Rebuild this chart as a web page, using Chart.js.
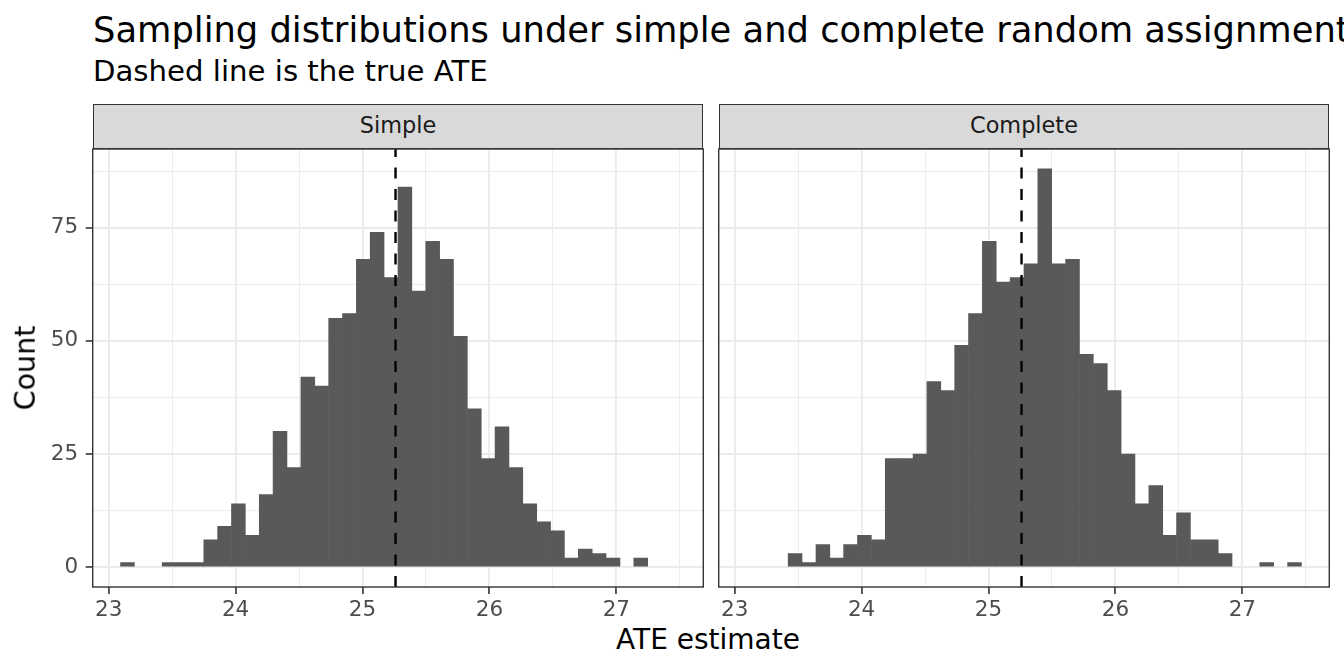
<!DOCTYPE html>
<html>
<head>
<meta charset="utf-8">
<script src="https://cdn.jsdelivr.net/npm/chart.js@4.4.1/dist/chart.umd.min.js"></script>
<style>
  body { margin: 0; width: 1344px; height: 672px; overflow: hidden; position: relative; background: #fff; font-family: "DejaVu Sans", sans-serif; }
  .txt { position: absolute; white-space: nowrap; line-height: 1; }
  #title { left: 93px; top: 11.8px; font-size: 35.3px; color: #000; }
  #subtitle { left: 93px; top: 57px; font-size: 29.2px; color: #000; }
  .strip { position: absolute; top: 104px; width: 610.6px; height: 44.6px; box-sizing: border-box; background: #d9d9d9; border: 1.4px solid #333; text-align: center; font-size: 22.4px; line-height: 41.8px; color: #1a1a1a; }
  .panel { position: absolute; top: 140px; height: 480px; }
  #xlab { left: 708px; top: 626.3px; font-size: 28px; transform: translateX(-50%); }
  #ylab { left: 25.5px; top: 368px; font-size: 28.5px; transform: translate(-50%, -50%) rotate(-90deg); }
</style>
</head>
<body>
<div class="txt" id="title">Sampling distributions under simple and complete random assignment</div>
<div class="txt" id="subtitle">Dashed line is the true ATE</div>
<div class="strip" style="left:92.7px">Simple</div>
<div class="strip" style="left:718.7px">Complete</div>
<div class="panel" style="left:0;width:712px"><canvas id="simple"></canvas></div>
<div class="panel" style="left:712px;width:625px"><canvas id="complete"></canvas></div>
<div class="txt" id="ylab">Count</div>
<div class="txt" id="xlab">ATE estimate</div>

<script>
// histogram bins (centres, width ~0.109), shared by both panels
const binCenters = [23.148, 23.257, 23.367, 23.476, 23.585, 23.695, 23.804, 23.913, 24.022, 24.132,
                    24.241, 24.350, 24.460, 24.569, 24.678, 24.788, 24.897, 25.006, 25.115, 25.225,
                    25.334, 25.443, 25.553, 25.662, 25.771, 25.881, 25.990, 26.099, 26.208, 26.318,
                    26.427, 26.536, 26.646, 26.755, 26.864, 26.974, 27.083, 27.192, 27.301, 27.411];
const simpleCounts = [1, 0, 0, 1, 1, 1, 6, 9, 14, 7, 16, 30, 22, 42, 40, 55, 56, 68, 74, 64,
                      84, 61, 72, 68, 51, 35, 24, 31, 22, 14, 10, 8, 2, 4, 3, 2, 0, 2, 0, 0];
const completeCounts = [0, 0, 0, 3, 1, 5, 2, 5, 7, 6, 24, 24, 25, 41, 39, 49, 56, 72, 63, 64,
                        67, 88, 67, 68, 47, 45, 39, 25, 14, 18, 7, 12, 6, 6, 3, 0, 0, 1, 0, 1];
const trueAte = 25.26;
const xMin = 22.874, xMax = 27.685;
const yMin = -4.4, yMax = 92.4;

const panelBorder = {
  id: 'panelBorder',
  afterDraw(chart) {
    const { ctx, chartArea: a } = chart;
    ctx.save();
    ctx.strokeStyle = '#333333';
    ctx.lineWidth = 1.4;
    ctx.strokeRect(a.left, a.top, a.right - a.left, a.bottom - a.top);
    ctx.restore();
  }
};

function makePanel(canvasId, counts, showY, pad) {
  const ctx = document.getElementById(canvasId).getContext('2d');
  const isMajorX = c => c.tick && Number.isInteger(c.tick.value);
  const isMajorY = c => c.tick && c.tick.value % 25 === 0;
  // empty bins draw nothing
  const bars = binCenters.map((x, i) => ({ x: x, y: counts[i] })).filter(d => d.y > 0);

  return new Chart(ctx, {
    type: 'bar',
    data: {
      datasets: [{
        type: 'line',
        data: [{ x: trueAte, y: yMin }, { x: trueAte, y: yMax }],
        borderColor: '#000',
        borderWidth: 2.4,
        borderDash: [11, 10.5],
        pointRadius: 0,
        fill: false,
        order: 0
      }, {
        data: bars,
        backgroundColor: '#595959',
        borderWidth: 0,
        barPercentage: 1,
        categoryPercentage: 1,
        order: 1
      }]
    },
    options: {
      responsive: true,
      maintainAspectRatio: false,
      animation: false,
      layout: { padding: pad },
      plugins: { legend: { display: false }, tooltip: { enabled: false } },
      scales: {
        x: {
          type: 'linear',
          min: xMin,
          max: xMax,
          offset: false,
          border: { display: false },
          grid: {
            offset: false,
            color: '#ebebeb',
            lineWidth: c => isMajorX(c) ? 1.9 : 0.95,
            tickColor: c => isMajorX(c) ? '#333333' : 'rgba(0,0,0,0)',
            tickLength: 7,
            tickWidth: 1.6
          },
          ticks: {
            stepSize: 0.5,
            includeBounds: false,
            autoSkip: false,
            maxRotation: 0,
            padding: 3.5,
            color: '#4d4d4d',
            font: { family: 'DejaVu Sans', size: 21.5 },
            callback: v => Number.isInteger(v) ? v : ''
          },
          afterFit: s => { s.height = 33; s.paddingLeft = 0; s.paddingRight = 0; }
        },
        y: {
          min: yMin,
          max: yMax,
          border: { display: false },
          grid: {
            color: '#ebebeb',
            lineWidth: c => isMajorY(c) ? 1.9 : 0.95,
            drawTicks: showY,
            tickColor: c => isMajorY(c) ? '#333333' : 'rgba(0,0,0,0)',
            tickLength: 7,
            tickWidth: 1.6
          },
          ticks: {
            display: showY,
            stepSize: 12.5,
            includeBounds: false,
            padding: 7.5,
            color: '#4d4d4d',
            font: { family: 'DejaVu Sans', size: 21.5 },
            callback: v => v % 25 === 0 ? v : ''
          },
          afterFit: s => { s.width = showY ? 92.7 : 0; s.paddingTop = 0; s.paddingBottom = 0; }
        }
      }
    },
    plugins: [panelBorder]
  });
}

makePanel('simple', simpleCounts, true, { left: 0, top: 9, right: 8.7, bottom: 0 });
makePanel('complete', completeCounts, false, { left: 6.7, top: 9, right: 7.7, bottom: 0 });
</script>
</body>
</html>
